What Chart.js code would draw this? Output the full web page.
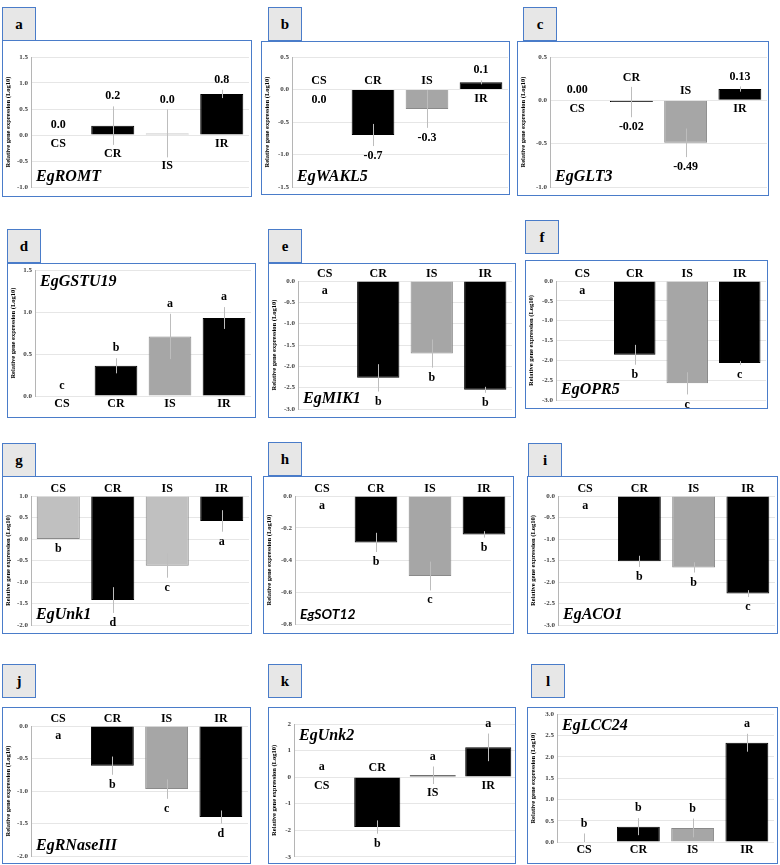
<!DOCTYPE html>
<html>
<head>
<meta charset="utf-8">
<script src="https://cdn.jsdelivr.net/npm/chart.js@4"></script>
<style>
  body { margin: 0; background: #fff; width: 780px; height: 865px; position: relative; overflow: hidden; }
  .frame { position: absolute; border: 1.5px solid #4a7cc9; box-sizing: border-box; pointer-events: none; }
  .tag { position: absolute; width: 34px; height: 34px; box-sizing: border-box; border: 1.5px solid #4a7cc9;
         background: #e7e7e7; font: bold 15px "Liberation Serif", serif; display: flex; align-items: center; justify-content: center; }
  canvas { position: absolute; }
</style>
</head>
<body>
<script>
// categories shared by every panel
const CATS = ['CS', 'CR', 'IS', 'IR'];

// a - EgROMT
const romtValues = [0, 0.18, 0.03, 0.79];
const romtErrors = [0, 0.37, 0.46, 0.08];
const romtNotes = ['0.0', '0.2', '0.0', '0.8'];
const romtTicks = [-1.0, 1.5, 0.5];

// b - EgWAKL5
const waklValues = [0, -0.70, -0.30, 0.11];
const waklErrors = [0, 0.17, 0.29, 0.03];
const waklNotes = ['0.0', '-0.7', '-0.3', '0.1'];
const waklTicks = [-1.5, 0.5, 0.5];

// c - EgGLT3
const gltValues = [0, -0.02, -0.49, 0.13];
const gltErrors = [0, 0.175, 0.165, 0.03];
const gltNotes = ['0.00', '-0.02', '-0.49', '0.13'];
const gltTicks = [-1.0, 0.5, 0.5];

// d - EgGSTU19
const gstuValues = [0, 0.36, 0.71, 0.93];
const gstuErrors = [0, 0.09, 0.27, 0.13];
const gstuNotes = ['c', 'b', 'a', 'a'];
const gstuTicks = [0, 1.5, 0.5];

// e - EgMIK1
const mikValues = [0, -2.27, -1.70, -2.55];
const mikErrors = [0, 0.32, 0.33, 0.07];
const mikNotes = ['a', 'b', 'b', 'b'];
const mikTicks = [-3.0, 0, 0.5];

// f - EgOPR5
const oprValues = [0, -1.86, -2.58, -2.07];
const oprErrors = [0, 0.25, 0.28, 0.05];
const oprNotes = ['a', 'b', 'c', 'c'];
const oprTicks = [-3.0, 0, 0.5];

// g - EgUnk1 (bars hang from the top of the axis)
const unk1Values = [0, -1.42, -0.62, 0.42];
const unk1Errors = [0, 0.30, 0.28, 0.25];
const unk1Notes = ['b', 'd', 'c', 'a'];
const unk1Ticks = [-2.0, 1.0, 0.5];

// h - EgSOT12
const sotValues = [0, -0.29, -0.50, -0.24];
const sotErrors = [0, 0.06, 0.09, 0.02];
const sotNotes = ['a', 'b', 'c', 'b'];
const sotTicks = [-0.8, 0, 0.2];

// i - EgACO1
const acoValues = [0, -1.52, -1.66, -2.27];
const acoErrors = [0, 0.13, 0.12, 0.08];
const acoNotes = ['a', 'b', 'b', 'c'];
const acoTicks = [-3.0, 0, 0.5];

// j - EgRNaseIII
const rnaValues = [0, -0.61, -0.97, -1.40];
const rnaErrors = [0, 0.14, 0.15, 0.10];
const rnaNotes = ['a', 'b', 'c', 'd'];
const rnaTicks = [-2.0, 0, 0.5];

// k - EgUnk2
const unk2Values = [0, -1.88, 0.07, 1.12];
const unk2Errors = [0, 0.25, 0.33, 0.52];
const unk2Notes = ['a', 'b', 'a', 'a'];
const unk2Ticks = [-3, 2, 1];

// l - EgLCC24
const lccValues = [0, 0.36, 0.33, 2.33];
const lccErrors = [0.20, 0.20, 0.22, 0.21];
const lccNotes = ['b', 'b', 'b', 'a'];
const lccTicks = [0, 3.0, 0.5];

// colores
const K = '#000000', G = '#a6a6a6', LG = '#c0c0c0';
const SERIF = '"Liberation Serif", "Times New Roman", serif';
const GENE_FONT = 'italic bold 16px ' + SERIF;

const panels = [
  { tag: 'a', gene: 'EgROMT', values: romtValues, errors: romtErrors, notes: romtNotes, ticks: romtTicks,
    colors: [K, K, G, K], cat: 'bar', zeroDir: 1, genePos: 'bottom',
    frame: [2, 40, 250, 157], plot: [31, 57, 249, 187], box: [2, 7] },
  { tag: 'b', gene: 'EgWAKL5', values: waklValues, errors: waklErrors, notes: waklNotes, ticks: waklTicks,
    colors: [K, K, G, K], cat: 'bar', zeroDir: -1, genePos: 'bottom',
    frame: [261, 41, 249, 154], plot: [292, 57, 508, 187], box: [268, 7] },
  { tag: 'c', gene: 'EgGLT3', values: gltValues, errors: gltErrors, notes: gltNotes, ticks: gltTicks,
    colors: [K, K, G, K], cat: 'bar', zeroDir: 1, genePos: 'bottom',
    frame: [517, 41, 252, 155], plot: [550, 57, 767, 187], box: [523, 7] },
  { tag: 'd', gene: 'EgGSTU19', values: gstuValues, errors: gstuErrors, notes: gstuNotes, ticks: gstuTicks,
    colors: [K, K, G, K], cat: 'bottom', zeroDir: 1, genePos: 'top',
    frame: [7, 263, 249, 155], plot: [35, 268, 251, 396], box: [7, 229] },
  { tag: 'e', gene: 'EgMIK1', values: mikValues, errors: mikErrors, notes: mikNotes, ticks: mikTicks,
    colors: [K, K, G, K], cat: 'top', zeroDir: -1, genePos: 'bottom',
    frame: [268, 263, 248, 155], plot: [298, 281, 512, 409], box: [268, 229] },
  { tag: 'f', gene: 'EgOPR5', values: oprValues, errors: oprErrors, notes: oprNotes, ticks: oprTicks,
    colors: [K, K, G, K], cat: 'top', zeroDir: -1, genePos: 'bottom',
    frame: [525, 260, 243, 149], plot: [556, 281, 766, 400], box: [525, 220] },
  { tag: 'g', gene: 'EgUnk1', values: unk1Values, errors: unk1Errors, notes: unk1Notes, ticks: unk1Ticks,
    colors: [LG, K, LG, K], cat: 'top', zeroDir: -1, genePos: 'bottom', base: 1,
    frame: [2, 476, 250, 158], plot: [31, 496, 249, 625], box: [2, 443] },
  { tag: 'h', gene: 'EgSOT12', values: sotValues, errors: sotErrors, notes: sotNotes, ticks: sotTicks,
    colors: [K, K, G, K], cat: 'top', zeroDir: -1, genePos: 'bottom', geneFont: 'italic bold 14px Lato, sans-serif',
    frame: [263, 476, 251, 158], plot: [295, 496, 511, 624], box: [268, 442] },
  { tag: 'i', gene: 'EgACO1', values: acoValues, errors: acoErrors, notes: acoNotes, ticks: acoTicks,
    colors: [K, K, G, K], cat: 'top', zeroDir: -1, genePos: 'bottom',
    frame: [527, 476, 251, 158], plot: [558, 496, 775, 625], box: [528, 443] },
  { tag: 'j', gene: 'EgRNaseIII', values: rnaValues, errors: rnaErrors, notes: rnaNotes, ticks: rnaTicks,
    colors: [K, K, G, K], cat: 'top', zeroDir: -1, genePos: 'bottom',
    frame: [2, 707, 249, 157], plot: [31, 726, 248, 856], box: [2, 664] },
  { tag: 'k', gene: 'EgUnk2', values: unk2Values, errors: unk2Errors, notes: unk2Notes, ticks: unk2Ticks,
    colors: [K, K, K, K], cat: 'bar', zeroDir: 1, genePos: 'top', barPct: 0.83,
    frame: [268, 707, 248, 157], plot: [294, 724, 516, 858], box: [268, 664] },
  { tag: 'l', gene: 'EgLCC24', values: lccValues, errors: lccErrors, notes: lccNotes, ticks: lccTicks,
    colors: [K, K, G, K], cat: 'bottom', zeroDir: 1, genePos: 'top',
    frame: [527, 707, 251, 157], plot: [557, 713, 774, 842], box: [531, 664] }
];

// dibuja barras de error, etiquetas, nombre del gen y titulo del eje
function makeOverlay(p) {
  return {
    id: 'overlay',
    afterDatasetsDraw(chart) {
      const ctx = chart.ctx, x = chart.scales.x, y = chart.scales.y, area = chart.chartArea;
      const base = p.base || 0;
      ctx.save();
      ctx.beginPath();
      ctx.rect(area.left, area.top, area.right - area.left, area.bottom - area.top);
      ctx.clip();
      ctx.strokeStyle = '#bdbdbd';
      ctx.lineWidth = 1;
      p.values.forEach((v, i) => {
        const e = p.errors[i];
        if (!e) return;
        const px = Math.round(x.getPixelForValue(i)) + 0.5;
        ctx.beginPath();
        ctx.moveTo(px, y.getPixelForValue(v + e));
        ctx.lineTo(px, y.getPixelForValue(v - e));
        ctx.stroke();
      });
      ctx.restore();

      ctx.save();
      ctx.fillStyle = '#000';
      ctx.textAlign = 'center';
      ctx.textBaseline = 'middle';
      ctx.font = 'bold 12px ' + SERIF;
      p.values.forEach((v, i) => {
        const e = p.errors[i];
        const d = v > base ? 1 : v < base ? -1 : p.zeroDir;
        const px = x.getPixelForValue(i);
        const end = d > 0 ? v + e : v - e;
        ctx.fillText(p.notes[i], px, y.getPixelForValue(end) - d * 10);
        let cy;
        if (p.cat === 'bar') {
          const back = d > 0 ? Math.min(base, v - e) : Math.max(base, v + e);
          cy = y.getPixelForValue(back) + d * 9;
        } else if (p.cat === 'top') {
          cy = area.top - 7;
        } else {
          cy = area.bottom + 8;
        }
        ctx.fillText(CATS[i], px, cy);
      });

      ctx.font = p.geneFont || GENE_FONT;
      ctx.textAlign = 'left';
      ctx.fillText(p.gene, area.left + 5, p.genePos === 'top' ? area.top + 12 : area.bottom - 10);

      ctx.translate(6, (area.top + area.bottom) / 2);
      ctx.rotate(-Math.PI / 2);
      ctx.font = 'bold 6.5px ' + SERIF;
      ctx.textAlign = 'center';
      ctx.fillText('Relative gene expression (Log10)', 0, 0);
      ctx.restore();
    }
  };
}

panels.forEach(p => {
  const [fx, fy, fw, fh] = p.frame;
  const [pl, pt, pr, pb] = p.plot;

  const tag = document.createElement('div');
  tag.className = 'tag';
  tag.style.left = p.box[0] + 'px';
  tag.style.top = p.box[1] + 'px';
  tag.textContent = p.tag;
  document.body.appendChild(tag);

  const cv = document.createElement('canvas');
  cv.width = fw; cv.height = fh;
  cv.style.left = fx + 'px'; cv.style.top = fy + 'px';
  cv.style.width = fw + 'px'; cv.style.height = fh + 'px';
  document.body.appendChild(cv);

  const frame = document.createElement('div');
  frame.className = 'frame';
  frame.style.left = fx + 'px'; frame.style.top = fy + 'px';
  frame.style.width = fw + 'px'; frame.style.height = fh + 'px';
  document.body.appendChild(frame);

  const [min, max, step] = p.ticks;
  const dec = step < 1 ? 1 : 0;
  const axisW = pl - fx;

  new Chart(cv, {
    type: 'bar',
    data: {
      labels: CATS,
      datasets: [{
        data: p.values,
        base: p.base || 0,
        backgroundColor: p.colors,
        borderColor: p.colors.map(c => c === K ? K : '#8a8a8a'),
        borderWidth: 1,
        barPercentage: p.barPct || 0.79,
        categoryPercentage: 1
      }]
    },
    options: {
      responsive: false,
      animation: false,
      devicePixelRatio: 1,
      layout: { padding: { left: 0, top: pt - fy, right: fx + fw - pr, bottom: fy + fh - pb } },
      plugins: { legend: { display: false }, tooltip: { enabled: false } },
      scales: {
        x: { display: false },
        y: {
          min: min,
          max: max,
          ticks: {
            stepSize: step,
            padding: 3,
            color: '#404040',
            font: { family: SERIF, size: 7, weight: 'bold' },
            callback: v => (Math.abs(v) < 1e-9 ? 0 : v).toFixed(dec)
          },
          grid: { color: '#e6e6e6', drawTicks: false },
          border: { color: '#b5b5b5' },
          afterFit: s => { s.width = axisW; }
        }
      }
    },
    plugins: [makeOverlay(p)]
  });
});
</script>
</body>
</html>
